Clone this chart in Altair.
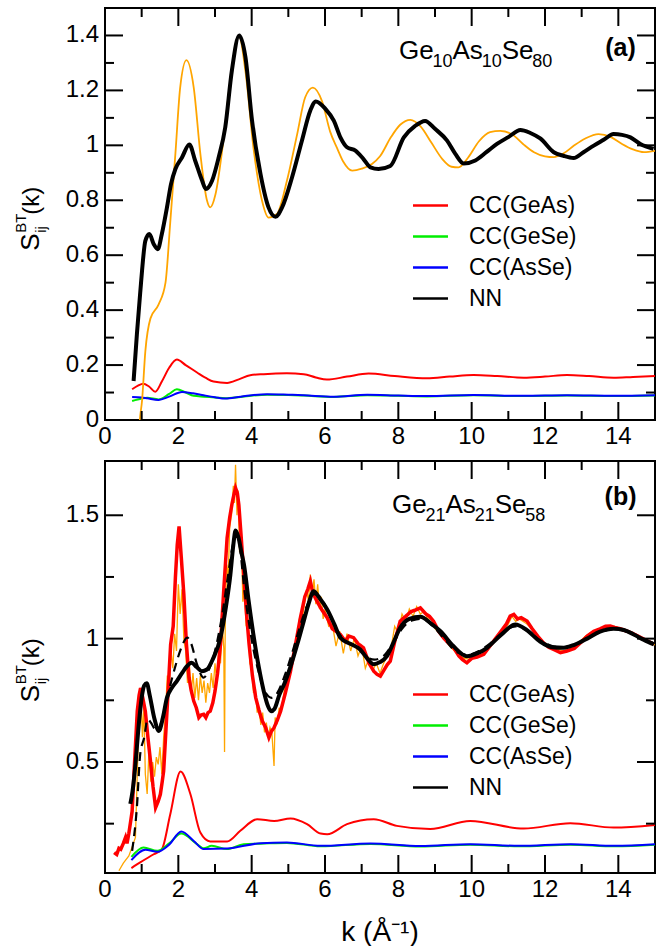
import altair as alt
import pandas as pd

FONT = "Liberation Sans"

# ---------------- panel (a): Ge10As10Se80 ----------------
a_orange_k = [0.90, 0.95, 1.01, 1.10, 1.24, 1.46, 1.65, 1.78, 1.92, 2.05, 2.22, 2.42, 2.60, 2.78,
              2.87, 3.01, 3.24, 3.42, 3.65, 3.83, 4.05, 4.28, 4.46, 4.69, 4.96, 5.24, 5.46, 5.67,
              5.92, 6.14, 6.33, 6.50, 6.74, 7.00, 7.28, 7.50, 7.80, 8.05, 8.33, 8.60, 8.90, 9.20,
              9.45, 9.64, 9.90, 10.20, 10.50, 10.78, 11.10, 11.40, 11.70, 12.00, 12.24, 12.50,
              12.80, 13.10, 13.46, 13.80, 14.10, 14.40, 14.70, 15.00]
a_orange_v = [-0.10, 0.00, 0.07, 0.25, 0.37, 0.42, 0.50, 0.72, 0.97, 1.21, 1.31, 1.21, 0.97, 0.80,
              0.774, 0.82, 1.03, 1.24, 1.40, 1.27, 0.99, 0.80, 0.737, 0.75, 0.87, 1.04, 1.175, 1.21,
              1.16, 1.05, 0.99, 0.94, 0.908, 0.915, 0.932, 0.96, 1.03, 1.075, 1.093, 1.07, 1.01, 0.95,
              0.922, 0.92, 0.955, 1.015, 1.048, 1.053, 1.04, 1.005, 0.975, 0.96, 0.957, 0.97,
              1.00, 1.025, 1.041, 1.03, 1.005, 0.985, 0.975, 0.98]

a_nn_k = [0.78, 0.87, 0.98, 1.01, 1.10, 1.21, 1.33, 1.44, 1.55, 1.69, 1.80, 1.92, 2.10, 2.30,
          2.46, 2.65, 2.75, 2.92, 3.10, 3.28, 3.46, 3.66, 3.83, 4.01, 4.24, 4.46, 4.65, 4.83,
          5.10, 5.37, 5.60, 5.75, 6.01, 6.24, 6.42, 6.60, 6.83, 7.05, 7.24, 7.46, 7.78, 8.15,
          8.45, 8.73, 9.00, 9.33, 9.55, 9.78, 10.10, 10.40, 10.69, 11.00, 11.33, 11.60, 11.87,
          12.24, 12.50, 12.78, 13.05, 13.33, 13.60, 13.87, 14.10, 14.33, 14.60, 14.96]
a_nn_v = [0.142, 0.313, 0.495, 0.543, 0.652, 0.677, 0.640, 0.622, 0.677, 0.774, 0.859, 0.914,
          0.956, 1.003, 0.944, 0.871, 0.841, 0.871, 0.956, 1.066, 1.272, 1.400, 1.321, 1.090,
          0.896, 0.774, 0.740, 0.774, 0.883, 1.017, 1.127, 1.160, 1.133, 1.090, 1.029, 0.993,
          0.981, 0.950, 0.920, 0.914, 0.925, 1.029, 1.070, 1.089, 1.060, 1.017, 0.970, 0.934,
          0.945, 0.975, 1.005, 1.030, 1.056, 1.045, 1.025, 0.975, 0.962, 0.954, 0.975, 0.999,
          1.020, 1.041, 1.038, 1.029, 1.005, 0.987]

a_geas_k = [0.74, 0.90, 1.04, 1.20, 1.37, 1.55, 1.75, 1.96, 2.20, 2.51, 2.75, 2.96, 3.33, 3.65,
            3.96, 4.33, 4.96, 5.42, 5.75, 6.05, 6.60, 7.19, 7.90, 8.78, 9.40, 10.05, 10.70,
            11.42, 12.00, 12.60, 13.20, 13.87, 14.40, 15.00]
a_geas_v = [0.112, 0.125, 0.132, 0.122, 0.103, 0.140, 0.190, 0.220, 0.200, 0.173, 0.153, 0.140,
            0.135, 0.148, 0.163, 0.167, 0.170, 0.167, 0.155, 0.147, 0.158, 0.169, 0.160, 0.152,
            0.158, 0.164, 0.160, 0.154, 0.158, 0.164, 0.160, 0.154, 0.157, 0.160]

a_gese_k = [0.74, 1.00, 1.15, 1.46, 1.75, 1.96, 2.20, 2.42, 2.70, 3.00, 3.28, 3.70, 4.42, 5.00,
            5.42, 6.24, 7.15, 8.00, 8.78, 10.05, 11.40, 12.60, 13.90, 15.00]
a_gese_v = [0.069, 0.078, 0.081, 0.075, 0.095, 0.112, 0.100, 0.088, 0.085, 0.082, 0.079, 0.084,
            0.092, 0.091, 0.089, 0.084, 0.090, 0.088, 0.086, 0.090, 0.087, 0.089, 0.087, 0.089]

a_asse_k = [0.74, 1.00, 1.15, 1.46, 1.75, 2.10, 2.40, 2.69, 3.00, 3.28, 3.70, 4.42, 5.00, 5.42,
            6.24, 7.15, 8.00, 8.78, 10.05, 11.40, 12.60, 13.90, 15.00]
a_asse_v = [0.084, 0.082, 0.079, 0.073, 0.085, 0.102, 0.097, 0.090, 0.083, 0.078, 0.085, 0.094,
            0.092, 0.090, 0.085, 0.092, 0.089, 0.087, 0.091, 0.088, 0.090, 0.088, 0.090]

# ---------------- panel (b): Ge21As21Se58 ----------------
b_orange_k = [0.38, 0.50, 0.65, 0.75, 0.83, 0.88, 0.93, 0.98, 1.02, 1.06, 1.10, 1.15, 1.20, 1.25,
              1.30, 1.35, 1.40, 1.45, 1.50, 1.55, 1.60, 1.65, 1.70, 1.75, 1.80, 1.85, 1.90, 1.95,
              2.00, 2.05, 2.10, 2.15, 2.20, 2.25, 2.30, 2.35, 2.40, 2.45, 2.50, 2.55, 2.60, 2.65,
              2.70, 2.75, 2.80, 2.85, 2.90, 2.95, 3.00, 3.05, 3.10, 3.15, 3.20, 3.24, 3.26, 3.28,
              3.32, 3.36, 3.40, 3.45, 3.50, 3.53, 3.56, 3.60, 3.63, 3.67, 3.72, 3.76, 3.80, 3.85,
              3.90, 3.95, 4.00, 4.05, 4.10, 4.15, 4.20, 4.25, 4.30, 4.35, 4.40, 4.45, 4.50, 4.55,
              4.61, 4.64, 4.70, 4.75, 4.80, 4.90, 5.00, 5.10, 5.20, 5.30, 5.40, 5.50, 5.55, 5.60,
              5.65, 5.70, 5.75, 5.80, 5.85, 5.90, 5.95, 6.00, 6.10, 6.20, 6.30, 6.40, 6.50, 6.60,
              6.70, 6.80, 6.90, 7.00, 7.10, 7.20, 7.30, 7.40, 7.50, 7.60, 7.70, 7.80, 7.90, 8.00,
              8.10, 8.20, 8.30, 8.40, 8.50, 8.60, 8.70, 8.80, 8.90, 9.00, 9.20, 9.40, 9.60, 9.80,
              10.00, 10.20, 10.40, 10.60, 10.80, 11.00, 11.10, 11.20, 11.30, 11.50, 11.70, 11.90,
              12.10, 12.30, 12.50, 12.70, 12.90, 13.10, 13.30, 13.50, 13.70, 13.90, 14.10, 14.30,
              14.50, 14.70, 14.90, 15.00]
b_orange_v = [0.059, 0.090, 0.119, 0.160, 0.194, 0.450, 0.700, 0.780, 0.600, 0.720, 0.450, 0.370,
              0.550, 0.420, 0.500, 0.440, 0.520, 0.490, 0.560, 0.450, 0.600, 0.700, 0.850, 0.800,
              0.950, 0.880, 1.020, 0.950, 1.220, 1.100, 1.200, 1.000, 0.950, 0.820, 0.900, 0.780,
              0.860, 0.760, 0.840, 0.750, 0.850, 0.780, 0.830, 0.740, 0.820, 0.780, 0.860, 0.800,
              0.900, 0.820, 0.950, 0.900, 1.050, 0.960, 0.540, 1.100, 1.300, 1.250, 1.450, 1.500,
              1.620, 1.550, 1.705, 1.500, 1.600, 1.350, 1.400, 1.150, 1.200, 1.050, 1.080, 0.900,
              0.880, 0.780, 0.800, 0.700, 0.720, 0.650, 0.700, 0.620, 0.660, 0.600, 0.640, 0.620,
              0.484, 0.680, 0.660, 0.720, 0.700, 0.800, 0.840, 0.920, 0.950, 1.080, 1.100, 1.200,
              1.150, 1.260, 1.180, 1.240, 1.140, 1.220, 1.120, 1.170, 1.080, 1.120, 1.050, 1.060,
              0.970, 1.030, 0.940, 1.020, 0.950, 1.000, 0.930, 0.970, 0.880, 0.920, 0.870, 0.900,
              0.860, 0.900, 0.930, 0.960, 1.050, 1.020, 1.100, 1.070, 1.120, 1.090, 1.130, 1.100,
              1.110, 1.080, 1.080, 1.040, 1.010, 0.970, 0.940, 0.920, 0.915, 0.940, 0.950, 0.990,
              1.020, 1.060, 1.090, 1.070, 1.080, 1.060, 1.030, 0.990, 0.970, 0.960, 0.950, 0.960,
              0.980, 1.010, 1.030, 1.040, 1.050, 1.050, 1.040, 1.030, 1.010, 1.000, 0.980, 0.975]

b_exp_k = [0.25, 0.32, 0.38, 0.43, 0.50, 0.56, 0.60, 0.65, 0.70, 0.74, 0.80, 0.88, 0.93, 0.97,
           1.03, 1.10, 1.17, 1.24, 1.31, 1.38, 1.45, 1.51, 1.56, 1.60, 1.70, 1.79, 1.86, 1.92,
           1.97, 2.02, 2.08, 2.15, 2.22, 2.29, 2.35, 2.42, 2.49, 2.56, 2.62, 2.69, 2.75, 2.81,
           2.87, 2.94, 3.00, 3.07, 3.15, 3.24, 3.33, 3.40, 3.46, 3.51, 3.56, 3.61, 3.65, 3.72,
           3.79, 3.86, 3.93, 4.02, 4.11, 4.20, 4.29, 4.38, 4.47, 4.54, 4.61, 4.70, 4.79, 4.92,
           5.06, 5.20, 5.33, 5.45, 5.53, 5.60, 5.66, 5.72, 5.78, 5.90, 6.06, 6.20, 6.30, 6.42,
           6.55, 6.65, 6.78, 6.90, 7.05, 7.20, 7.33, 7.42, 7.51, 7.60, 7.70, 7.78, 7.92, 8.05,
           8.20, 8.35, 8.45, 8.60, 8.75, 8.85, 8.96, 9.10, 9.25, 9.38, 9.51, 9.65, 9.75, 9.87,
           10.00, 10.15, 10.33, 10.50, 10.65, 10.80, 10.95, 11.05, 11.15, 11.25, 11.35, 11.51,
           11.65, 11.80, 11.96, 12.10, 12.25, 12.42, 12.60, 12.80, 12.97, 13.15, 13.33, 13.50,
           13.65, 13.78, 13.90, 14.05, 14.24, 14.40, 14.60, 14.80, 14.97]
b_exp_v = [0.133, 0.125, 0.150, 0.146, 0.170, 0.194, 0.170, 0.210, 0.260, 0.300, 0.480, 0.706,
           0.770, 0.800, 0.760, 0.706, 0.600, 0.504, 0.400, 0.315, 0.340, 0.369, 0.420, 0.464,
           0.730, 0.977, 1.050, 1.247, 1.380, 1.455, 1.330, 1.179, 0.980, 0.842, 0.790, 0.747,
           0.720, 0.680, 0.690, 0.693, 0.680, 0.700, 0.706, 0.740, 0.787, 0.860, 0.977, 1.200,
           1.408, 1.490, 1.543, 1.580, 1.611, 1.590, 1.543, 1.400, 1.247, 1.100, 0.977, 0.850,
           0.761, 0.710, 0.666, 0.640, 0.599, 0.625, 0.639, 0.670, 0.706, 0.780, 0.868, 0.980,
           1.085, 1.170, 1.200, 1.233, 1.190, 1.170, 1.152, 1.120, 1.085, 1.040, 1.030, 1.017,
           0.990, 1.010, 1.004, 0.980, 0.963, 0.900, 0.868, 0.855, 0.848, 0.870, 0.895, 0.909,
           1.000, 1.071, 1.090, 1.110, 1.115, 1.125, 1.100, 1.090, 1.071, 1.030, 1.000, 0.980,
           0.963, 0.930, 0.915, 0.902, 0.920, 0.925, 0.936, 0.970, 1.000, 1.030, 1.060, 1.091,
           1.098, 1.080, 1.085, 1.071, 1.040, 1.010, 0.983, 0.965, 0.955, 0.943, 0.950, 0.960,
           0.983, 1.010, 1.030, 1.040, 1.050, 1.051, 1.045, 1.040, 1.030, 1.020, 1.005, 0.990,
           0.977]

b_nn_k = [0.69, 0.75, 0.83, 0.92, 1.00, 1.07, 1.14, 1.22, 1.34, 1.47, 1.58, 1.69, 1.82, 1.96,
          2.10, 2.24, 2.36, 2.50, 2.64, 2.78, 2.95, 3.15, 3.30, 3.42, 3.50, 3.56, 3.64, 3.72,
          3.79, 3.92, 4.06, 4.20, 4.33, 4.45, 4.53, 4.62, 4.75, 4.90, 5.05, 5.25, 5.42, 5.55,
          5.69, 5.85, 6.06, 6.25, 6.42, 6.69, 6.96, 7.15, 7.33, 7.50, 7.69, 7.87, 8.05, 8.30,
          8.60, 8.90, 9.15, 9.50, 9.87, 10.15, 10.42, 10.80, 11.19, 11.50, 11.85, 12.20, 12.51,
          12.80, 13.15, 13.50, 13.87, 14.15, 14.42, 14.70, 14.97]
b_nn_v = [0.330, 0.380, 0.490, 0.650, 0.760, 0.810, 0.819, 0.770, 0.680, 0.626, 0.680, 0.761,
          0.800, 0.828, 0.860, 0.889, 0.902, 0.885, 0.868, 0.875, 0.920, 1.004, 1.130, 1.260,
          1.380, 1.438, 1.410, 1.350, 1.300, 1.150, 1.004, 0.880, 0.787, 0.725, 0.706, 0.715,
          0.770, 0.820, 0.882, 0.980, 1.071, 1.140, 1.192, 1.165, 1.118, 1.060, 1.004, 0.979,
          0.956, 0.920, 0.896, 0.905, 0.929, 0.985, 1.044, 1.080, 1.089, 1.060, 1.030, 0.970,
          0.929, 0.940, 0.963, 1.015, 1.057, 1.035, 0.990, 0.965, 0.963, 0.975, 1.000, 1.028,
          1.040, 1.035, 1.017, 0.995, 0.977]

b_ref_k = [0.74, 0.87, 0.96, 1.07, 1.16, 1.25, 1.35, 1.43, 1.55, 1.70, 1.83, 1.96, 2.10, 2.24,
           2.35, 2.50, 2.69, 2.85, 3.00, 3.20, 3.35, 3.51, 3.58, 3.66, 3.80, 3.93, 4.06, 4.20,
           4.35, 4.55, 4.70, 4.90, 5.10, 5.30, 5.50, 5.70, 5.85, 6.05, 6.30, 6.55, 6.85, 7.10,
           7.35, 7.60, 7.85, 8.10, 8.40, 8.65, 8.95, 9.30, 9.60, 9.90, 10.20, 10.50, 10.85,
           11.20, 11.50, 11.85, 12.20, 12.50, 12.85, 13.20, 13.55, 13.90, 14.20, 14.50, 14.80,
           15.00]
b_ref_v = [0.140, 0.317, 0.531, 0.600, 0.673, 0.660, 0.635, 0.626, 0.670, 0.762, 0.840, 0.909,
           0.970, 1.004, 0.980, 0.900, 0.842, 0.880, 0.950, 1.100, 1.250, 1.395, 1.420, 1.390,
           1.200, 1.060, 0.949, 0.860, 0.790, 0.760, 0.780, 0.850, 0.940, 1.040, 1.130, 1.180,
           1.170, 1.120, 1.040, 0.990, 0.970, 0.930, 0.915, 0.930, 0.980, 1.040, 1.075, 1.080,
           1.050, 0.990, 0.945, 0.935, 0.950, 0.980, 1.025, 1.050, 1.035, 0.995, 0.970, 0.965,
           0.980, 1.005, 1.028, 1.040, 1.030, 1.010, 0.990, 0.980]

b_geas_k = [0.72, 0.96, 1.33, 1.55, 1.78, 2.06, 2.33, 2.60, 2.87, 3.33, 3.69, 4.15, 4.61, 5.06,
            5.51, 5.88, 6.06, 6.60, 7.33, 7.96, 8.87, 9.96, 11.42, 12.69, 13.87, 15.00]
b_geas_v = [0.070, 0.093, 0.126, 0.146, 0.288, 0.461, 0.369, 0.214, 0.178, 0.178, 0.221, 0.268,
            0.261, 0.271, 0.248, 0.210, 0.207, 0.248, 0.268, 0.241, 0.228, 0.261, 0.230, 0.252,
            0.234, 0.245]

b_gese_k = [0.72, 1.05, 1.43, 1.75, 2.08, 2.51, 2.69, 2.91, 3.33, 3.78, 4.24, 4.96, 5.88, 7.24,
            8.60, 9.96, 11.30, 12.70, 13.90, 15.00]
b_gese_v = [0.115, 0.153, 0.140, 0.170, 0.210, 0.167, 0.150, 0.160, 0.147, 0.167, 0.169, 0.172,
            0.158, 0.168, 0.157, 0.165, 0.158, 0.165, 0.158, 0.165]

b_asse_k = [0.72, 1.10, 1.43, 1.75, 2.08, 2.42, 2.69, 3.33, 4.24, 4.96, 5.88, 7.24, 8.60, 9.96,
            11.30, 12.70, 13.90, 15.00]
b_asse_v = [0.102, 0.144, 0.136, 0.165, 0.218, 0.180, 0.147, 0.149, 0.171, 0.174, 0.160, 0.170,
            0.159, 0.167, 0.160, 0.167, 0.160, 0.167]

SERIES = ["CC(GeAs)", "CC(GeSe)", "CC(AsSe)", "NN"]
SERIES_COLORS = ["#ff0000", "#00ee00", "#0000ff", "#000000"]

X_MAJOR = [0, 2, 4, 6, 8, 10, 12, 14]
X_MINOR = [1, 3, 5, 7, 9, 11, 13]

W, H = 550, 412
TICK_MAJOR, TICK_MINOR = 18, 9
TICK_FONT = 24


def frame(k, v, name):
    return pd.DataFrame({"k": k, "v": v, "series": name})


def inward_ticks(values, side, size, xs, ys):
    """Tick marks drawn just inside one edge of the frame."""
    rule = alt.Chart(pd.DataFrame({"tick_at": values, "edge": side})).mark_rule(
        color="black", strokeWidth=2, opacity=1)
    if side == "bottom":
        return rule.encode(x=alt.X("tick_at:Q", scale=xs, axis=None),
                           y=alt.value(H), y2=alt.value(H - size))
    if side == "top":
        return rule.encode(x=alt.X("tick_at:Q", scale=xs, axis=None),
                           y=alt.value(0), y2=alt.value(size))
    if side == "left":
        return rule.encode(y=alt.Y("tick_at:Q", scale=ys, axis=None),
                           x=alt.value(0), x2=alt.value(size))
    return rule.encode(y=alt.Y("tick_at:Q", scale=ys, axis=None),
                       x=alt.value(W), x2=alt.value(W - size))


def tick_labels(values, side, xs, ys):
    """Numeric labels for the major ticks, placed outside the frame."""
    df = pd.DataFrame({"label_at": values, "label": [f"{t:g}" for t in values]})
    if side == "bottom":
        return alt.Chart(df).mark_text(font=FONT, fontSize=TICK_FONT, align="center",
                                       baseline="top", color="black").encode(
            x=alt.X("label_at:Q", scale=xs, axis=None), y=alt.value(H + 5), text="label:N")
    return alt.Chart(df).mark_text(font=FONT, fontSize=TICK_FONT, align="right",
                                   baseline="middle", color="black").encode(
        y=alt.Y("label_at:Q", scale=ys, axis=None), x=alt.value(-6), text="label:N")


def word_with_subscripts(parts, anchor, xs, ys):
    """Draw text such as Ge10As10Se80 as alternating normal / subscript runs."""
    (k0, v0), layers, dx = anchor, [], 0.0
    for i, (txt, width) in enumerate(parts):
        sub = i % 2 == 1
        layers.append(alt.Chart().mark_text(
            font=FONT, fontSize=18 if sub else 26, align="left", baseline="alphabetic",
            dx=dx, dy=8 if sub else 0, color="black").encode(
            x=alt.XDatum(k0, scale=xs, axis=None), y=alt.YDatum(v0, scale=ys, axis=None),
            text=alt.value(txt)))
        dx += width
    return layers


def panel(lines, y_dom, y_major, y_minor, formula, tag, legend_y, places, x_title=None):
    xs = alt.Scale(domain=[0, 15], nice=False, zero=False)
    ys = alt.Scale(domain=y_dom, nice=False, zero=False)

    color = alt.Color(
        "series:N",
        scale=alt.Scale(domain=SERIES, range=SERIES_COLORS),
        legend=alt.Legend(
            title=None, orient="none", legendX=314, legendY=legend_y, symbolType="M-2,0H2",
            symbolSize=306, symbolStrokeWidth=2.5, labelFont=FONT, labelFontSize=23,
            labelColor="black", labelOffset=27, rowPadding=7, padding=0,
        ),
    )

    layers = []
    for df, style in lines:
        x = alt.X("k:Q", scale=xs, axis=None)
        y = alt.Y("v:Q", scale=ys, axis=None)
        mark = alt.Chart(df).mark_line(clip=True, **style)
        if "color" in style:
            layers.append(mark.encode(x=x, y=y))
        else:
            layers.append(mark.encode(x=x, y=y, color=color))

    layers.append(tick_labels(X_MAJOR, "bottom", xs, ys))
    layers.append(tick_labels(y_major, "left", xs, ys))

    if x_title:
        layers.append(alt.Chart().mark_text(font=FONT, fontSize=28, align="center",
                                            baseline="alphabetic", color="black").encode(
            x=alt.value(W / 2), y=alt.value(H + 68), text=alt.value(x_title)))

    # composition label and panel tag
    ytitle_v, formula_at, (tk, tv) = places
    layers += word_with_subscripts(formula, formula_at, xs, ys)
    layers.append(alt.Chart().mark_text(font=FONT, fontSize=25, fontWeight="bold",
                                        align="center", baseline="middle", color="black").encode(
        x=alt.XDatum(tk, scale=xs, axis=None), y=alt.YDatum(tv, scale=ys, axis=None),
        text=alt.value(tag)))

    # y-axis title S_ij^BT(k), written upward from its anchor
    pieces = [("S", 26, 0, 0), ("ij", 15, 18, 7), ("BT", 15, 18, -13), ("(k)", 24, 36, 0)]
    for txt, size, dx, dy in pieces:
        layers.append(alt.Chart().mark_text(font=FONT, fontSize=size, angle=270, align="left",
                                            baseline="alphabetic", dx=dx, dy=dy,
                                            color="black").encode(
            x=alt.value(-66), y=alt.YDatum(ytitle_v, scale=ys, axis=None), text=alt.value(txt)))

    # inward major and minor ticks on all four sides of the frame, drawn last
    for side in ("bottom", "top"):
        layers.append(inward_ticks(X_MAJOR, side, TICK_MAJOR, xs, ys))
        layers.append(inward_ticks(X_MINOR, side, TICK_MINOR, xs, ys))
    for side in ("left", "right"):
        layers.append(inward_ticks(y_major, side, TICK_MAJOR, xs, ys))
        layers.append(inward_ticks(y_minor, side, TICK_MINOR, xs, ys))

    return alt.layer(*layers).properties(width=W, height=H)


smooth = dict(strokeWidth=2, interpolate="monotone")
panel_a = panel(
    [
        (frame(a_geas_k, a_geas_v, "CC(GeAs)"), smooth),
        (frame(a_gese_k, a_gese_v, "CC(GeSe)"), smooth),
        (frame(a_asse_k, a_asse_v, "CC(AsSe)"), smooth),
        (frame(a_orange_k, a_orange_v, "total"),
         dict(strokeWidth=1.8, color="#ffa500", interpolate="monotone")),
        (frame(a_nn_k, a_nn_v, "NN"), dict(strokeWidth=4, interpolate="monotone")),
    ],
    [0, 1.5], [0, 0.2, 0.4, 0.6, 0.8, 1.0, 1.2, 1.4], [0.1, 0.3, 0.5, 0.7, 0.9, 1.1, 1.3],
    [("Ge", 33.4), ("10", 20.0), ("As", 29.2), ("10", 20.0), ("Se", 30.6), ("80", 20.0)],
    "(a)", 186,
    (0.616, (8.02, 1.316), (14.06, 1.353)),
)

panel_b = panel(
    [
        (frame(b_geas_k, b_geas_v, "CC(GeAs)"), smooth),
        (frame(b_gese_k, b_gese_v, "CC(GeSe)"), smooth),
        (frame(b_asse_k, b_asse_v, "CC(AsSe)"), smooth),
        (frame(b_orange_k, b_orange_v, "total"), dict(strokeWidth=1.3, color="#ffa500")),
        (frame(b_exp_k, b_exp_v, "experiment"), dict(strokeWidth=3.5, color="#ff0000")),
        (frame(b_ref_k, b_ref_v, "reference"),
         dict(strokeWidth=2.2, color="#000000", strokeDash=[9, 6], interpolate="monotone")),
        (frame(b_nn_k, b_nn_v, "NN"), dict(strokeWidth=4, interpolate="monotone")),
    ],
    [0.05, 1.72], [0.5, 1.0, 1.5], [0.25, 0.75, 1.25],
    [("Ge", 33.4), ("21", 20.0), ("As", 29.2), ("21", 20.0), ("Se", 30.6), ("58", 20.0)],
    "(b)", 222,
    (0.742, (7.83, 1.511), (14.06, 1.576)),
    x_title="k (\u00c5\u207b\u00b9)",
)

chart = (
    alt.vconcat(panel_a, panel_b, spacing=9)
    .resolve_scale(color="independent")
    .resolve_legend(color="independent")
    .properties(padding={"left": 12, "top": 6, "right": 10, "bottom": 5}, background="white")
    .configure_view(stroke="black", strokeWidth=2)
)

chart.save("out.html", embed_options={"renderer": "svg", "actions": False})
